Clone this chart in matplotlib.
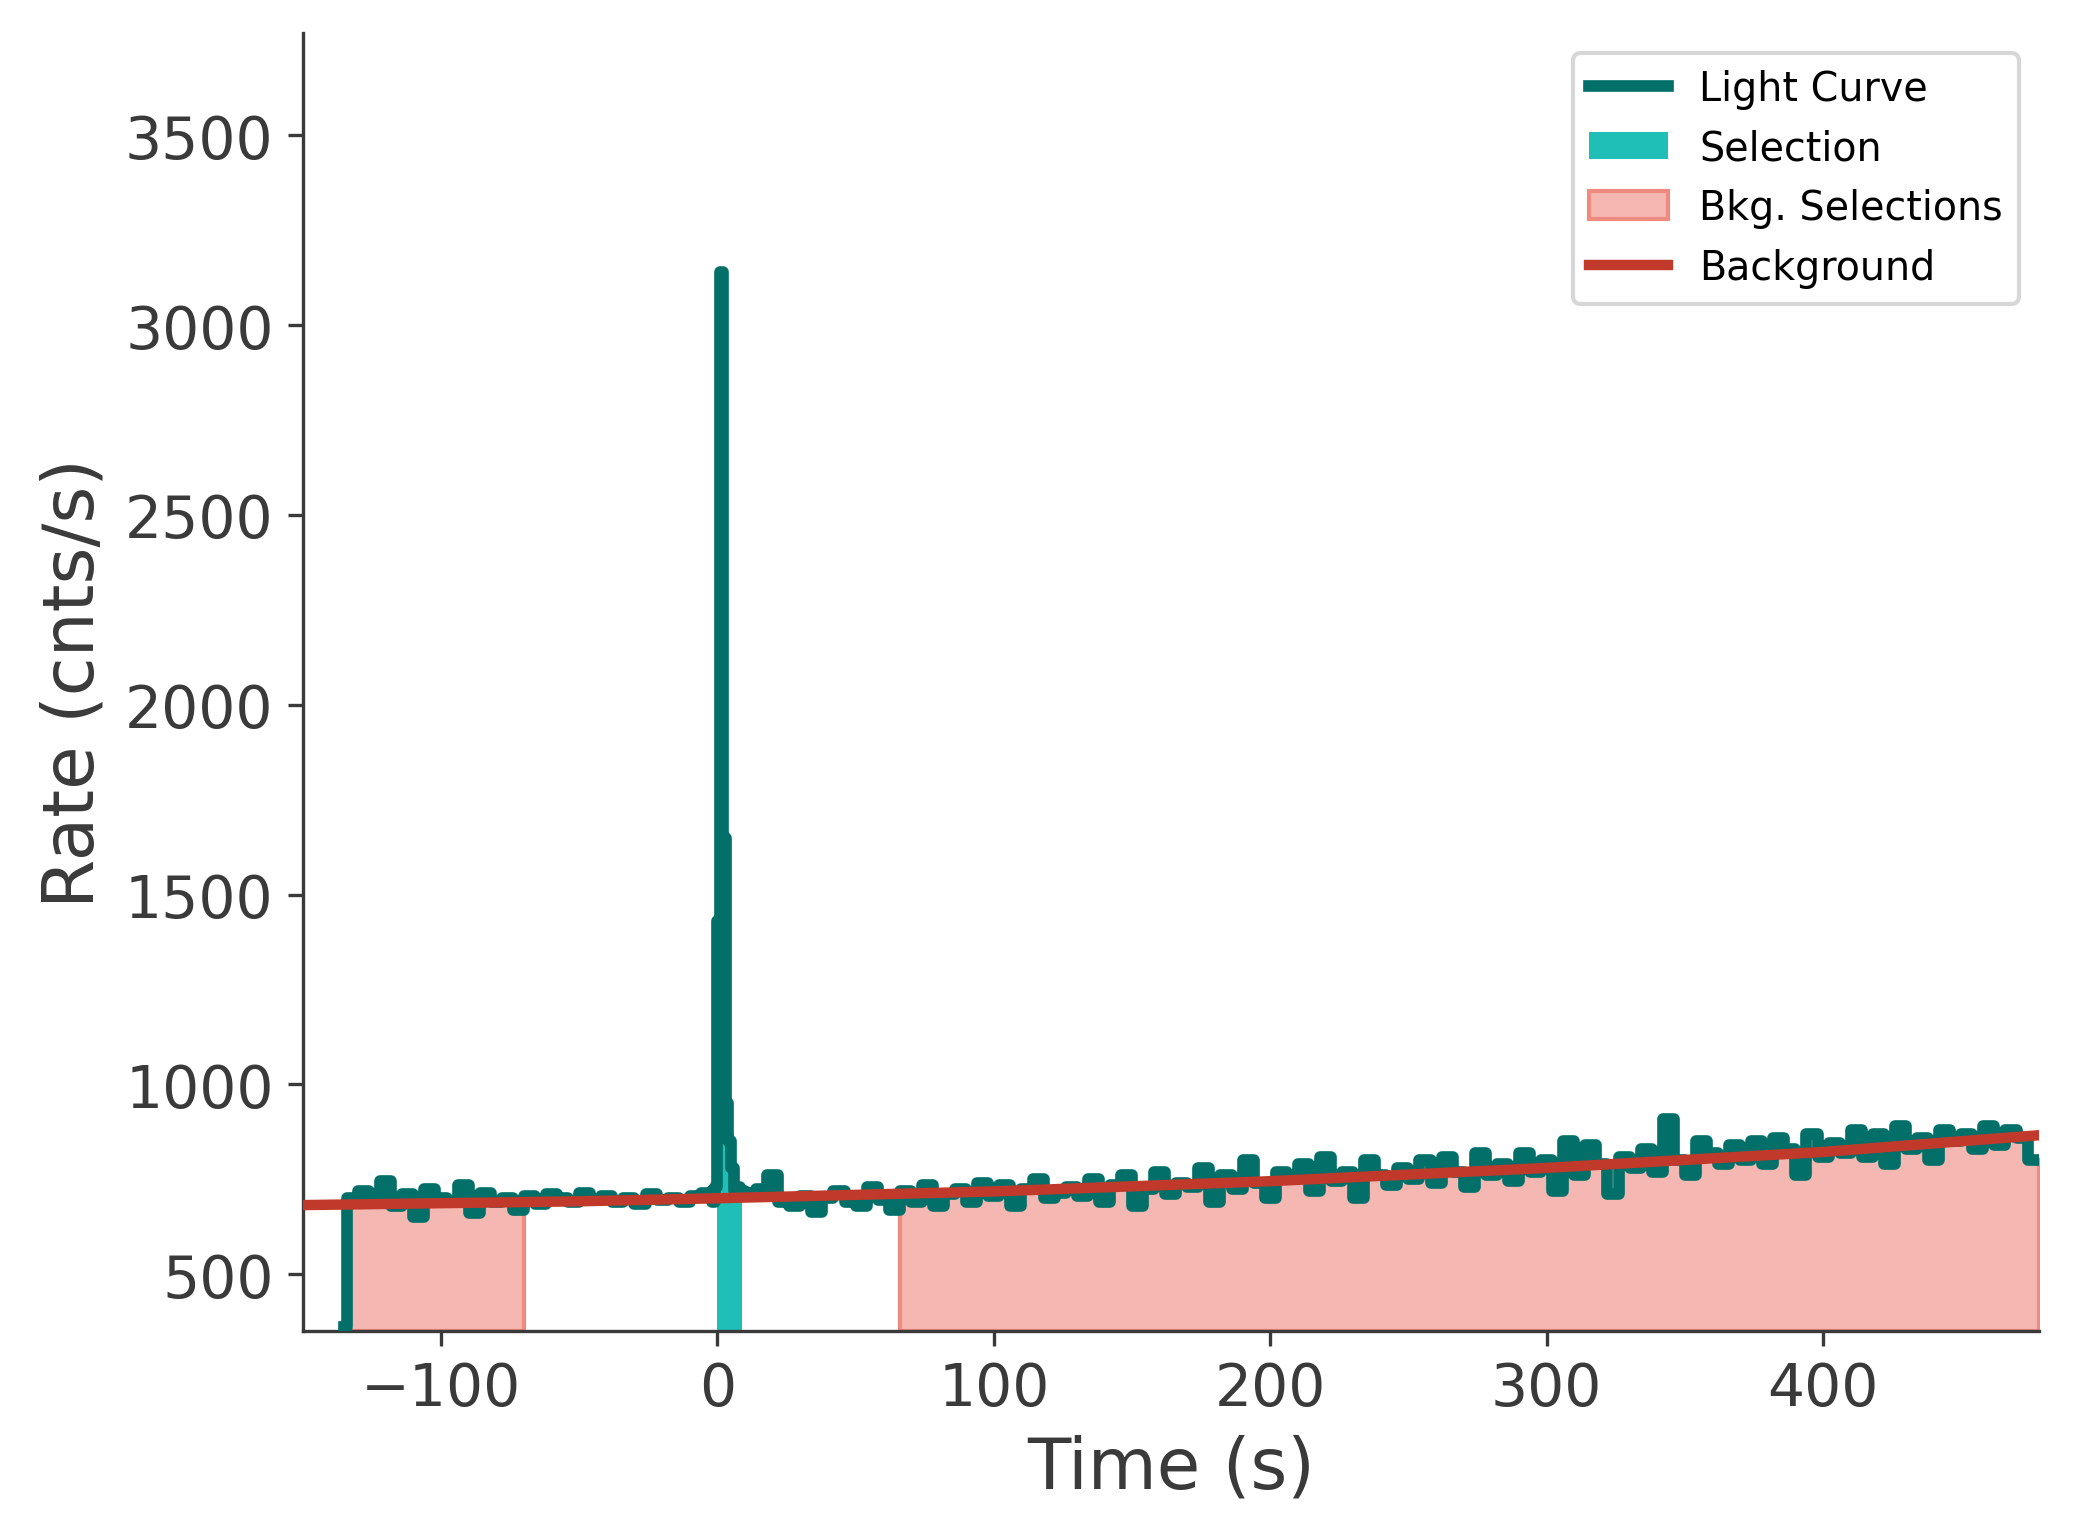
import numpy as np
import matplotlib.pyplot as plt

# light curve, coarse 4 s bins before and after the pulse, 1 s bins around it
pre_edges = np.arange(-134, -1, 4)
pre_rates = [700, 720, 690, 745, 680, 710, 650, 725, 700, 690, 735, 660, 715, 690, 700, 670, 705,
             685, 710, 700, 690, 715, 695, 705, 690, 700, 685, 710, 695, 700, 690, 705, 715, 720]
peak_edges = np.arange(-2, 10, 1)
peak_rates = [690, 730, 1430, 3140, 1650, 950, 850, 780, 720, 730, 715, 720]
post_edges = np.arange(10, 478, 4)
post_rates = [715, 725, 760, 690, 680, 705, 665, 700, 720, 690,
              680, 730, 695, 670, 720, 690, 735, 680, 710, 725,
              690, 740, 705, 735, 680, 725, 750, 700, 715, 730,
              705, 750, 690, 735, 760, 680, 725, 770, 710, 740,
              730, 780, 690, 760, 725, 800, 740, 700, 770, 750,
              790, 720, 810, 745, 770, 700, 800, 760, 735, 780,
              750, 800, 740, 810, 770, 730, 820, 760, 790, 745,
              820, 770, 800, 720, 850, 760, 840, 790, 710, 810,
              780, 830, 770, 910, 800, 760, 850, 820, 790, 840,
              800, 850, 790, 860, 830, 760, 870, 810, 845, 820,
              880, 810, 870, 790, 890, 830, 860, 800, 880, 850,
              870, 830, 890, 840, 880, 860, 800]

start_time, start_rate = -135, 360
src_sel = (0, 9)
bkg_sels = [(-135, -67), (66, 478)]
bkg_times = [-150, -50, 0, 100, 200, 300, 400, 478]
bkg_rates = [682, 692, 700, 718, 745, 780, 822, 866]

t = np.concatenate([[start_time], pre_edges, peak_edges, post_edges, [478]])
r = np.concatenate([[start_rate], pre_rates, peak_rates, post_rates, [post_rates[-1]]])

lc_color = '#036f69'
fig = plt.figure(figsize=(6.913, 5.133), dpi=300)
ax = fig.add_axes([0.146, 0.135, 0.837, 0.843])
ymin = 350

m = (t >= src_sel[0]) & (t <= src_sel[1])
ax.fill_between(t[m], ymin, r[m], step='post', color='#1fbfb8', lw=0, label='Selection', zorder=2)
for i, (lo, hi) in enumerate(bkg_sels):
    m = (t >= lo) & (t <= hi)
    ax.fill_between(t[m], ymin, r[m], step='post', facecolor='#f5b7b1', edgecolor='#ef8a80',
                    lw=1, label='Bkg. Selections' if i == 0 else None, zorder=1)
ax.step(t, r, where='post', color=lc_color, lw=2.8, label='Light Curve', zorder=3)
ax.plot(bkg_times, bkg_rates, color='#c0392b', lw=2.5, label='Background', zorder=4)

ax.set_xlim(-150, 478)
ax.set_ylim(ymin, 3770)
ax.set_yticks([500, 1000, 1500, 2000, 2500, 3000, 3500])
ax.set_xticks([-100, 0, 100, 200, 300, 400])
for s in ['top', 'right']:
    ax.spines[s].set_visible(False)
for s in ['left', 'bottom']:
    ax.spines[s].set_color('#3a3a3a')
ax.tick_params(labelsize=14, colors='#3a3a3a')
ax.set_xlabel('Time (s)', fontsize=17, color='#3a3a3a')
ax.set_ylabel('Rate (cnts/s)', fontsize=17, color='#3a3a3a')

h, l = ax.get_legend_handles_labels()
order = [l.index(x) for x in ['Light Curve', 'Selection', 'Bkg. Selections', 'Background']]
ax.legend([h[i] for i in order], [l[i] for i in order], loc='upper right', fontsize=9.5,
          fancybox=True)

fig.savefig('out.png', dpi=300)
